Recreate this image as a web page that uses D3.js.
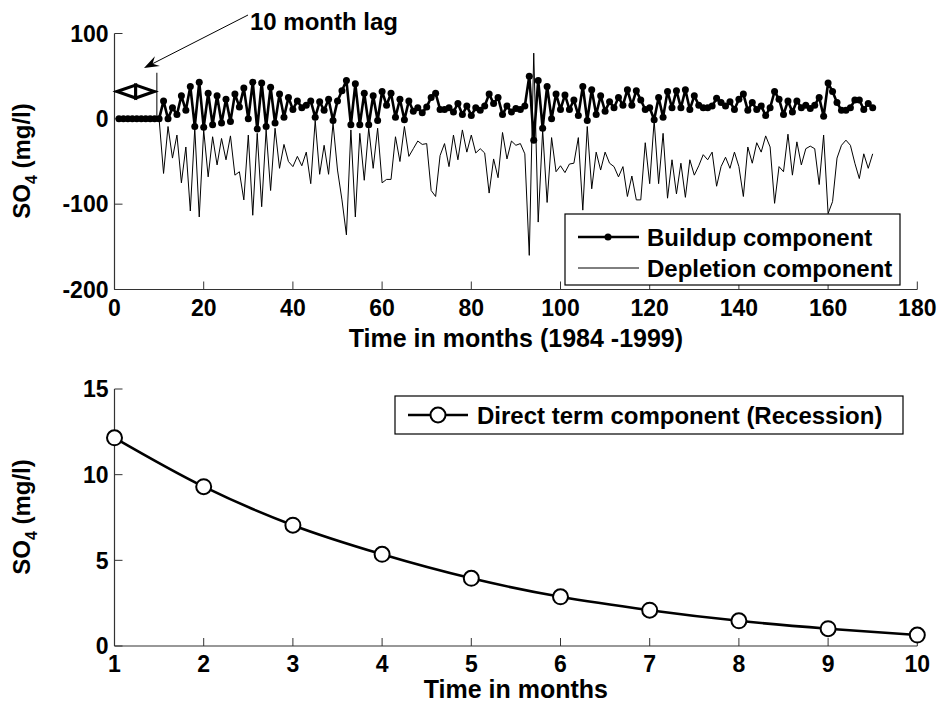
<!DOCTYPE html>
<html>
<head>
<meta charset="utf-8">
<script src="https://cdn.jsdelivr.net/npm/d3@7"></script>
<style>
  html, body { margin: 0; padding: 0; background: #fff; }
  svg { display: block; }
  text { font-family: "Liberation Sans", Arial, Helvetica, sans-serif; font-weight: bold; fill: #000; }
</style>
</head>
<body>
<svg id="chart" width="940" height="709"></svg>
<script>
// ---------------- DATA ----------------
// Top panel: months 1..170
const buildupMonths = d3.range(1, 171);
const buildupValues = [
  0,0,0,0,0,0,0,0,0,0,                 // 1-10 (lag)
  21,0,13,5,27,10,38,-9,43,-10,        // 11-20
  30,-7,27,-5,23,-3,29,14,36,0,        // 21-30
  43,-12,42,-9,37,-5,29,2,25,11,       // 31-40
  21,13,16,21,2,20,10,23,-2,21,        // 41-50
  33,45,-7,41,-7,30,-7,27,-2,32,       // 51-60
  16,30,2,23,-1,21,9,13,7,14,          // 61-70
  25,30,11,11,13,8,18,5,15,4,          // 71-80
  13,10,15,29,18,25,5,15,8,12,         // 81-90
  11,15,50,-25,45,-11,38,0,29,11,      // 91-100
  28,11,22,4,38,-2,34,5,27,9,          // 101-110
  20,13,25,16,34,16,33,22,11,13,       // 111-120
  -1,25,2,32,13,33,13,34,11,27,        // 121-130
  16,13,13,15,24,19,15,20,11,23,       // 131-140
  29,10,19,11,15,4,13,32,23,5,         // 141-150
  21,8,21,13,16,12,16,25,3,42,         // 151-160
  32,19,10,10,13,22,22,11,18,13        // 161-170
];
const depletionMonths = d3.range(10, 171);
const depletionValues = [
  0,                                   // 10
  -64,-9,-46,-19,-75,-33,-108,-11,-115,-13,   // 11-20
  -68,-21,-54,-23,-48,-20,-66,-62,-95,-19,    // 21-30
  -113,-17,-103,-13,-84,-11,-58,-30,-50,-56,  // 31-40
  -44,-55,-39,-76,-2,-65,-31,-65,-5,-60,      // 41-50
  -95,-136,-13,-115,-17,-72,-11,-58,-11,-75,  // 51-60
  -71,-71,-21,-50,-9,-44,-35,-26,-30,-29,     // 61-70
  -84,-91,-43,-29,-56,-19,-48,-13,-39,-19,    // 71-80
  -40,-35,-40,-87,-47,-69,-16,-47,-26,-31,    // 81-90
  -29,-41,-160,77,-121,-13,-98,-22,-62,-55,   // 91-100
  -63,-53,-52,-22,-107,-9,-82,-39,-60,-39,    // 101-110
  -52,-56,-68,-56,-91,-67,-95,-95,-28,-76,    // 111-120
  -2,-76,-17,-93,-48,-88,-52,-92,-48,-66,     // 121-130
  -55,-42,-48,-39,-79,-56,-45,-58,-39,-56,    // 131-140
  -91,-33,-52,-28,-39,-20,-33,-99,-56,-62,    // 141-150
  -18,-66,-27,-54,-35,-32,-35,-77,-19,-111,   // 151-160
  -97,-46,-31,-25,-31,-52,-70,-41,-58,-41     // 161-170
];
const topXTicks = [0, 20, 40, 60, 80, 100, 120, 140, 160, 180];
const topYTicks = [-200, -100, 0, 100];

// Bottom panel
const recessionMonths = [1, 2, 3, 4, 5, 6, 7, 8, 9, 10];
const recessionValues = [12.15, 9.3, 7.05, 5.35, 3.95, 2.87, 2.09, 1.47, 1.01, 0.64];
const botXTicks = [1, 2, 3, 4, 5, 6, 7, 8, 9, 10];
const botYTicks = [0, 5, 10, 15];

const labels = {
  topX: "Time in months (1984 -1999)",
  botX: "Time in months",
  buildup: "Buildup component",
  depletion: "Depletion component",
  recession: "Direct term component (Recession)",
  lag: "10 month lag"
};

// ---------------- DRAW ----------------
const svg = d3.select("#chart");
const FS = 23;      // tick labels
const FL = 24;      // legend / annotation
const FA = 25;      // axis titles
const axisColor = "#333";

function drawAxes(g, x, y, xTicks, yTicks, xLabel, labelY, ylabelCenter) {
  const [x0, x1] = x.range();
  const [yb, yt] = y.range();
  g.append("line").attr("x1", x0).attr("x2", x0).attr("y1", yb).attr("y2", yt)
    .attr("stroke", axisColor).attr("stroke-width", 1.2);
  g.append("line").attr("x1", x0).attr("x2", x1).attr("y1", yb).attr("y2", yb)
    .attr("stroke", axisColor).attr("stroke-width", 1.2);
  xTicks.forEach(t => {
    g.append("line").attr("x1", x(t)).attr("x2", x(t)).attr("y1", yb).attr("y2", yb - 8)
      .attr("stroke", axisColor).attr("stroke-width", 1);
    g.append("text").attr("x", x(t)).attr("y", yb + 26).attr("text-anchor", "middle")
      .attr("font-size", FS).text(t);
  });
  yTicks.forEach(t => {
    g.append("line").attr("x1", x0).attr("x2", x0 + 8).attr("y1", y(t)).attr("y2", y(t))
      .attr("stroke", axisColor).attr("stroke-width", 1);
    g.append("text").attr("x", x0 - 6).attr("y", y(t)).attr("dy", "0.36em")
      .attr("text-anchor", "end").attr("font-size", FS).text(t);
  });
  g.append("text").attr("x", (x0 + x1) / 2).attr("y", labelY).attr("text-anchor", "middle")
    .attr("font-size", FA).text(xLabel);
  const yl = g.append("text").attr("transform", `translate(30,${ylabelCenter}) rotate(-90)`)
    .attr("text-anchor", "middle").attr("font-size", FL);
  yl.append("tspan").text("SO");
  yl.append("tspan").attr("dy", 7).attr("font-size", 16).text("4");
  yl.append("tspan").attr("dy", -7).text(" (mg/l)");
}

// ---- Top panel ----
const gt = svg.append("g");
const xT = d3.scaleLinear().domain([0, 180]).range([114.5, 917.3]);
const yT = d3.scaleLinear().domain([-200, 100]).range([289.5, 33.5]);
drawAxes(gt, xT, yT, topXTicks, topYTicks, labels.topX, 347, 161);

const lineT = d3.line().x(d => xT(d[0])).y(d => yT(d[1]));
const depData = depletionMonths.map((m, i) => [m, depletionValues[i]]);
const bData = buildupMonths.map((m, i) => [m, buildupValues[i]]);
gt.append("path").datum(depData).attr("d", lineT).attr("fill", "none")
  .attr("stroke", "#000").attr("stroke-width", 1).attr("stroke-linejoin", "round");
gt.append("path").datum(bData).attr("d", lineT).attr("fill", "none")
  .attr("stroke", "#000").attr("stroke-width", 2.6).attr("stroke-linejoin", "round");
gt.selectAll("circle.b").data(bData).enter().append("circle")
  .attr("cx", d => xT(d[0])).attr("cy", d => yT(d[1])).attr("r", 3.5).attr("fill", "#000");

// Lag annotation
const lagX = 9.5;
gt.append("line").attr("x1", xT(lagX)).attr("x2", xT(lagX)).attr("y1", yT(0)).attr("y2", yT(54))
  .attr("stroke", "#000").attr("stroke-width", 1);
function arrowHead(g, tipX, tipY, fromX, fromY, len, half) {
  const a = Math.atan2(tipY - fromY, tipX - fromX);
  const bx = tipX - len * Math.cos(a), by = tipY - len * Math.sin(a);
  const px = -Math.sin(a) * half, py = Math.cos(a) * half;
  g.append("path").attr("d",
    `M${tipX},${tipY} L${bx + px},${by + py} L${bx},${by} L${bx - px},${by - py} Z`)
    .attr("fill", "#fff").attr("stroke", "#000").attr("stroke-width", 3).attr("stroke-linejoin", "miter");
}
const dblY = yT(32);
gt.append("line").attr("x1", xT(0)).attr("x2", xT(lagX)).attr("y1", dblY).attr("y2", dblY)
  .attr("stroke", "#000").attr("stroke-width", 1.5);
const midX = (xT(0) + xT(lagX)) / 2;
arrowHead(gt, xT(0) + 2.5, dblY, midX, dblY, midX - xT(0) - 2.5, 6.5);
arrowHead(gt, xT(lagX) - 2.5, dblY, midX, dblY, xT(lagX) - midX - 2.5, 6.5);

// 10 month lag text + arrow
const lagTextX = 250, lagTextY = 30;
gt.append("text").attr("x", lagTextX).attr("y", lagTextY).attr("font-size", FL).text(labels.lag);
const tipX = 144, tipY = 68, startX = 248, startY = 15;
gt.append("line").attr("x1", startX).attr("y1", startY).attr("x2", tipX + 8).attr("y2", tipY - 4)
  .attr("stroke", "#000").attr("stroke-width", 1);
(function () {
  const a = Math.atan2(tipY - startY, tipX - startX);
  const L = 16, ang = 0.35;
  const p1 = [tipX - L * Math.cos(a - ang), tipY - L * Math.sin(a - ang)];
  const p2 = [tipX - L * Math.cos(a + ang), tipY - L * Math.sin(a + ang)];
  const pm = [tipX - 0.6 * L * Math.cos(a), tipY - 0.6 * L * Math.sin(a)];
  gt.append("path").attr("d", `M${tipX},${tipY} L${p1} L${pm} L${p2} Z`).attr("fill", "#000");
})();

// Top legend
const lgT = gt.append("g");
lgT.append("rect").attr("x", 565).attr("y", 214).attr("width", 335).attr("height", 71)
  .attr("fill", "#fff").attr("stroke", "#000").attr("stroke-width", 1.2);
lgT.append("line").attr("x1", 578).attr("x2", 639).attr("y1", 237).attr("y2", 237)
  .attr("stroke", "#000").attr("stroke-width", 2.6);
lgT.append("circle").attr("cx", 608).attr("cy", 237).attr("r", 3.5).attr("fill", "#000");
lgT.append("text").attr("x", 647).attr("y", 237).attr("dy", "0.36em").attr("font-size", FL).text(labels.buildup);
lgT.append("line").attr("x1", 578).attr("x2", 639).attr("y1", 268).attr("y2", 268)
  .attr("stroke", "#000").attr("stroke-width", 1);
lgT.append("text").attr("x", 647).attr("y", 268).attr("dy", "0.36em").attr("font-size", FL).text(labels.depletion);

// ---- Bottom panel ----
const gb = svg.append("g");
const xB = d3.scaleLinear().domain([1, 10]).range([114.5, 917.3]);
const yB = d3.scaleLinear().domain([0, 15]).range([646, 389]);
drawAxes(gb, xB, yB, botXTicks, botYTicks, labels.botX, 698, 517);

const recData = recessionMonths.map((m, i) => [m, recessionValues[i]]);
gb.append("path").datum(recData)
  .attr("d", d3.line().x(d => xB(d[0])).y(d => yB(d[1])).curve(d3.curveMonotoneX))
  .attr("fill", "none").attr("stroke", "#000").attr("stroke-width", 2.6);
gb.selectAll("circle.r").data(recData).enter().append("circle")
  .attr("cx", d => xB(d[0])).attr("cy", d => yB(d[1])).attr("r", 7.5)
  .attr("fill", "#fff").attr("stroke", "#000").attr("stroke-width", 2);

const lgB = gb.append("g");
lgB.append("rect").attr("x", 395).attr("y", 396).attr("width", 508).attr("height", 38)
  .attr("fill", "#fff").attr("stroke", "#000").attr("stroke-width", 1.2);
lgB.append("line").attr("x1", 408).attr("x2", 468).attr("y1", 415).attr("y2", 415)
  .attr("stroke", "#000").attr("stroke-width", 2.6);
lgB.append("circle").attr("cx", 438).attr("cy", 415).attr("r", 7.5)
  .attr("fill", "#fff").attr("stroke", "#000").attr("stroke-width", 2);
lgB.append("text").attr("x", 477).attr("y", 415).attr("dy", "0.36em").attr("font-size", FL).text(labels.recession);
</script>
</body>
</html>
